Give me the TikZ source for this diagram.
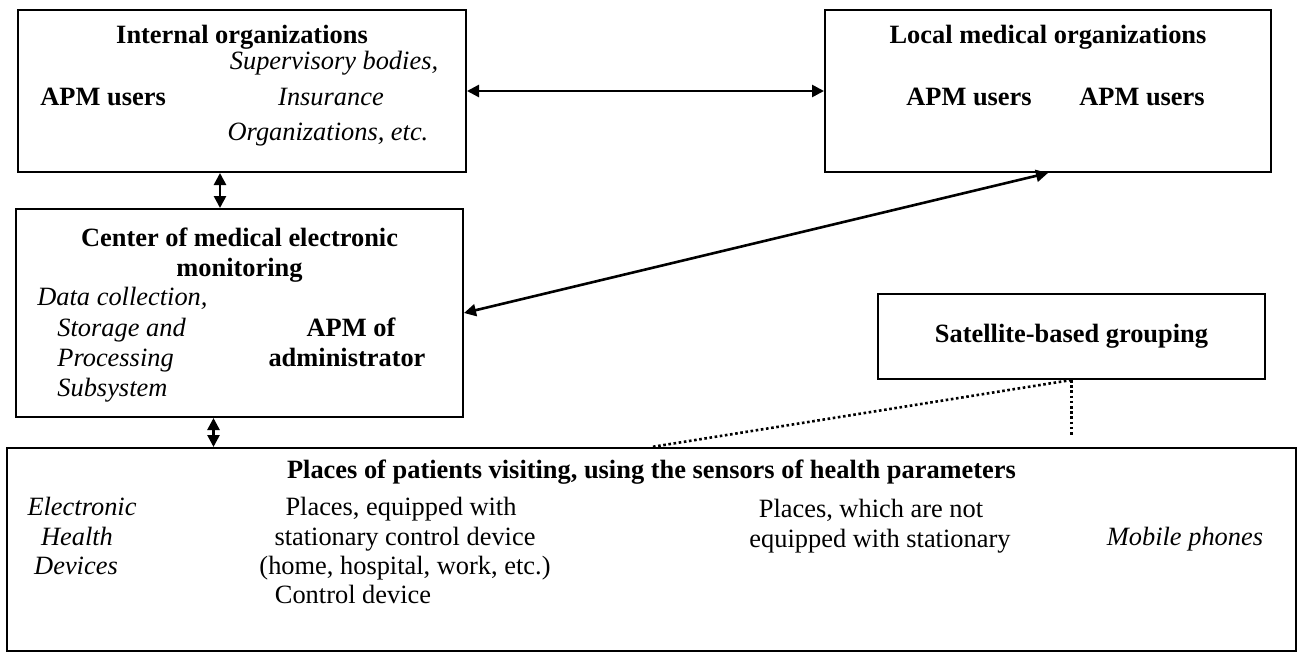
\documentclass[tikz,border=0pt]{standalone}
\usepackage{fontspec}
\setmainfont{Liberation Serif}
\usetikzlibrary{positioning,arrows.meta}
\tikzset{
box/.style={draw, line width=1pt, inner sep=0pt, font=\bfseries},
lbl/.style={inner sep=0pt, anchor=base},
hd/.style={lbl, font=\bfseries},
it/.style={lbl, font=\itshape},
link/.style={line width=1.3pt, {Triangle[length=6pt,width=6pt]}-{Triangle[length=6pt,width=6pt]}},
satline/.style={line width=1.3pt, dash pattern=on 1.3pt off 1.3pt}
}

\begin{document}
\fontsize{13.2}{15.2}\selectfont
\begin{tikzpicture}[x=0.5pt, y=-0.5pt]
  \useasboundingbox (0,0) rectangle (1298,653);

  % boxes
  \node[box, minimum width=224pt, minimum height=81pt] (intorg) at (242,91) {};
  \node[box, minimum width=223pt, minimum height=81pt] (localorg) at (1048,91) {};
  \node[box, minimum width=223.5pt, minimum height=104pt] (monitor) at (239.5,313) {};
  \node[box, minimum width=193.5pt, minimum height=42.5pt] (satgroup) at (1071.5,336.5) {Satellite-based grouping};
  \node[box, minimum width=644.5pt, minimum height=101.5pt] (places) at (651.5,549.5) {};

  % internal organizations
  \node[hd, below=8pt of intorg.north] {Internal organizations};
  \node[hd, anchor=base west] at (40,105) {APM users};
  \node[it] at (334,69) {Supervisory bodies,};
  \node[it] at (331,105) {Insurance};
  \node[it] at (328,140) {Organizations, etc.};

  % local medical organizations
  \node[hd, below=8pt of localorg.north] {Local medical organizations};
  \node[hd] at (969,105) {APM users};
  \node[hd] at (1142,105) {APM users};

  % monitoring center
  \node[hd, below=10pt of monitor.north] {Center of medical electronic};
  \node[hd] at (239.5,276) {monitoring};
  \node[it, anchor=base west] at (37,305) {Data collection,};
  \node[it, anchor=base west] at (57,336) {Storage and};
  \node[it, anchor=base west] at (57,366) {Processing};
  \node[it, anchor=base west] at (57,396) {Subsystem};
  \node[hd] at (351,336) {APM of};
  \node[hd] at (347,366) {administrator};

  % places of patients
  \node[hd, below=6.5pt of places.north] {Places of patients visiting, using the sensors of health parameters};
  \node[it] at (82,515) {Electronic};
  \node[it] at (77,545) {Health};
  \node[it] at (76,574) {Devices};
  \node[lbl] at (401,515) {Places, equipped with};
  \node[lbl] at (405,545) {stationary control device};
  \node[lbl] at (405,574) {(home, hospital, work, etc.)};
  \node[lbl] at (353,603) {Control device};
  \node[lbl] at (871,517) {Places, which are not};
  \node[lbl] at (880,547) {equipped with stationary};
  \node[it] at (1185,545) {Mobile phones};

  % connections
  \draw[link] (intorg.east) -- (localorg.west);
  \draw[link] ([xshift=-11pt]intorg.south) -- ([xshift=-11pt]intorg.south |- monitor.north);
  \draw[link] (monitor.east) -- (localorg.south);
  \draw[link] ([xshift=-13pt]monitor.south) -- ([xshift=-13pt]monitor.south |- places.north);
  \draw[satline] (satgroup.south) -- (places.north);
  \coordinate[below=28pt of satgroup.south] (satend);
  \draw[satline] (satgroup.south) -- (satend);
\end{tikzpicture}
\end{document}
